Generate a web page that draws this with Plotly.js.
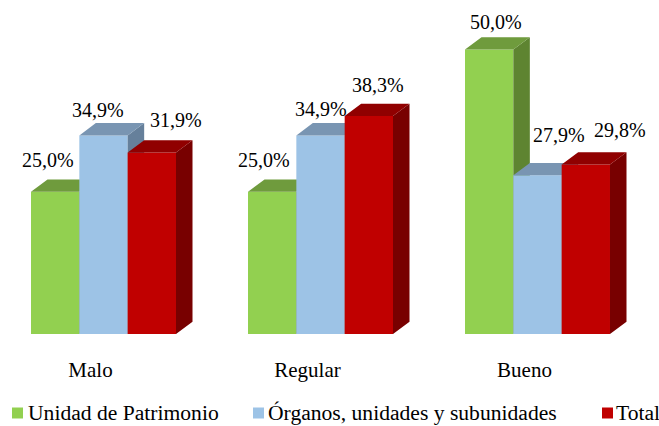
<!DOCTYPE html>
<html><head><meta charset="utf-8">
<script src="https://cdn.plot.ly/plotly-3.0.1.min.js"></script>
<style>html,body{margin:0;padding:0;background:#fff}</style>
</head><body><div id="chart" style="width:659px;height:426px"></div>
<script>
// ---- data ----
const categories = ['Malo', 'Regular', 'Bueno'];
const seriesNames = ['Unidad de Patrimonio', 'Órganos, unidades y subunidades', 'Total'];
const unidadPatrimonio = [25.0, 25.0, 50.0];
const organos = [34.9, 34.9, 27.9];
const total = [31.9, 38.3, 29.8];

// ---- styles ----
const frontColors = ['#92D050', '#9DC3E6', '#C00000'];
const topColors = ['#6F9B3D', '#7995B2', '#900000'];
const sideColors = ['#5E8431', '#66809B', '#780000'];
// pixel nudges for the data labels [xshift, yshift]
const labelNudge = [
  [[-15, 19.5], [-16, 19.5], [-1, 15.5]],
  [[-14, 13.6], [-8, 14], [13, 28.4]],
  [[16, 19.7], [1, 18.3], [25.5, 22]]
];

const W = 659, H = 426;
const mT = 0, mB = 92, mL = 0, mR = 0;
const pxPerCat = 217, pxPerUnit = 5.69;
const barW = 48.33 / pxPerCat;
const depthX = 16.5 / pxPerCat;
const depthY = 12.3 / pxPerUnit;
const xRange = [-103.5 / pxPerCat, -103.5 / pxPerCat + W / pxPerCat];
const yRange = [0, (H - mB - mT) / pxPerUnit];
const FONT = 'Liberation Serif';

const series = [unidadPatrimonio, organos, total];
const traces = [];
const annotations = [];
const axisSuffix = ['', '2', '3'];

series.forEach((vals, s) => {
  const xa = 'x' + axisSuffix[s], ya = 'y' + axisSuffix[s];
  const centers = categories.map((c, i) => i + (s - 1) * barW);
  traces.push({
    type: 'bar', x: centers, y: vals, width: barW, xaxis: xa, yaxis: ya,
    marker: {color: frontColors[s], line: {width: 0}},
    name: seriesNames[s], showlegend: false, hoverinfo: 'skip'
  });
  const topX = [], topY = [], sideX = [], sideY = [];
  vals.forEach((v, i) => {
    const xl = centers[i] - barW / 2, xr = centers[i] + barW / 2;
    topX.push(xl, xr, xr + depthX, xl + depthX, xl, null);
    topY.push(v, v, v + depthY, v + depthY, v, null);
    sideX.push(xr, xr + depthX, xr + depthX, xr, xr, null);
    sideY.push(0, depthY, v + depthY, v, 0, null);
    annotations.push({
      xref: xa, yref: ya, x: centers[i] + depthX / 2, y: v + depthY,
      text: v.toFixed(1).replace('.', ',') + '%', showarrow: false,
      xanchor: 'center', yanchor: 'middle',
      xshift: labelNudge[s][i][0], yshift: labelNudge[s][i][1],
      font: {family: FONT, size: 20, color: '#000000'}
    });
  });
  traces.push({type: 'scatter', x: sideX, y: sideY, xaxis: xa, yaxis: ya, mode: 'none',
    fill: 'toself', fillcolor: sideColors[s], showlegend: false, hoverinfo: 'skip'});
  traces.push({type: 'scatter', x: topX, y: topY, xaxis: xa, yaxis: ya, mode: 'none',
    fill: 'toself', fillcolor: topColors[s], showlegend: false, hoverinfo: 'skip'});
});

// custom legend
const legendSwatchX = [12, 253, 602];
const legendTextX = [26, 266, 614];
const legendY = 413;
const plotH = H - mT - mB;
const toPaperY = py => (plotH - (py - mT)) / plotH;
const shapes = [];
seriesNames.forEach((nm, s) => {
  shapes.push({type: 'rect', xref: 'paper', yref: 'paper',
    x0: legendSwatchX[s] / W, x1: (legendSwatchX[s] + 11) / W,
    y0: toPaperY(legendY + 5.5), y1: toPaperY(legendY - 5.5),
    fillcolor: frontColors[s], line: {width: 0}});
  annotations.push({xref: 'paper', yref: 'paper', x: legendTextX[s] / W, y: toPaperY(legendY),
    xanchor: 'left', yanchor: 'middle', showarrow: false, text: nm,
    font: {family: FONT, size: 21.6, color: '#000000'}});
});

const hiddenX = {range: xRange, visible: false, fixedrange: true};
const hiddenY = {range: yRange, visible: false, fixedrange: true};
const layout = {
  width: W, height: H,
  margin: {l: mL, r: mR, t: mT, b: mB, pad: 0},
  paper_bgcolor: '#ffffff', plot_bgcolor: 'rgba(0,0,0,0)',
  barmode: 'overlay', showlegend: false,
  font: {family: FONT, color: '#000000'},
  xaxis: {range: xRange, tickmode: 'array', tickvals: categories.map((c, i) => i), ticktext: categories,
    showgrid: false, zeroline: false, showline: false, ticks: '',
    ticklabelshift: -13, ticklabelstandoff: 21,
    tickfont: {family: FONT, size: 21, color: '#000000'}, fixedrange: true},
  yaxis: {range: yRange, visible: false, fixedrange: true},
  xaxis2: Object.assign({overlaying: 'x'}, hiddenX),
  yaxis2: Object.assign({overlaying: 'y'}, hiddenY),
  xaxis3: Object.assign({overlaying: 'x'}, hiddenX),
  yaxis3: Object.assign({overlaying: 'y'}, hiddenY),
  annotations: annotations, shapes: shapes
};
Plotly.newPlot('chart', traces, layout, {displayModeBar: false, staticPlot: true});
</script></body></html>
